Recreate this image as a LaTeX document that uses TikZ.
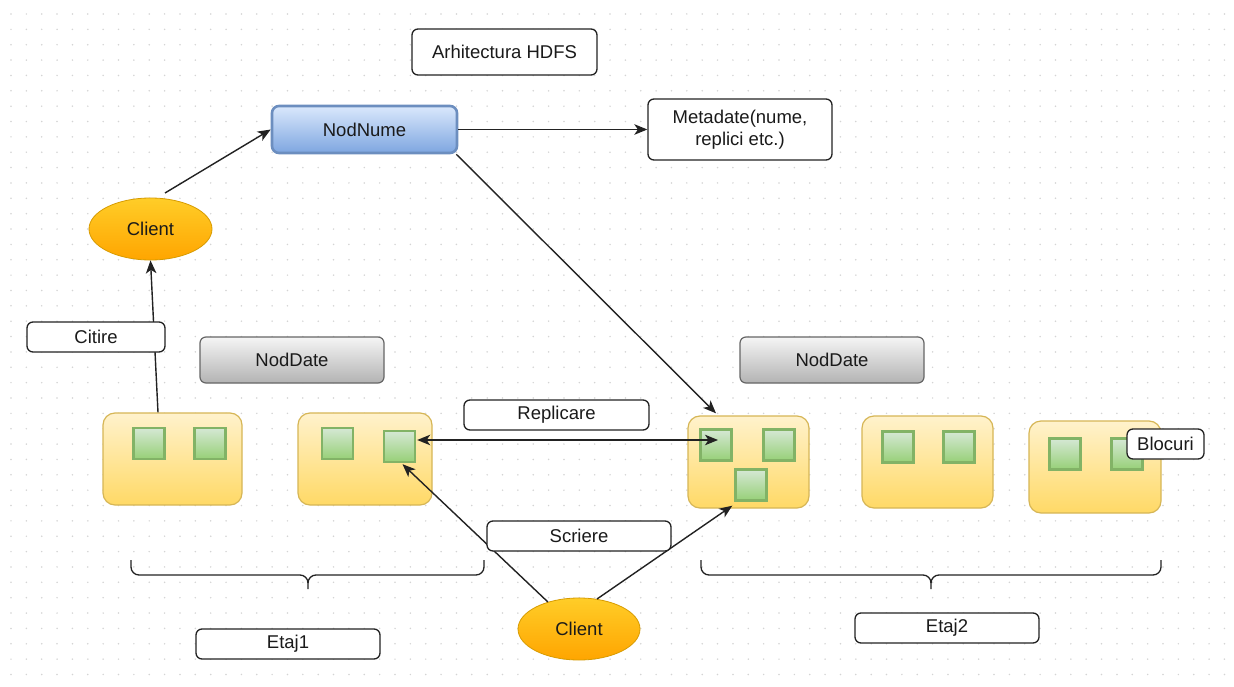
\documentclass[tikz,border=0pt]{standalone}
\usepackage{fontspec}
\setmainfont{Liberation Sans}
\usetikzlibrary{shapes.geometric,arrows.meta,calc}

\definecolor{dotc}{HTML}{D4D4D4}
\definecolor{inkc}{HTML}{222222}
\definecolor{txtc}{HTML}{1A1A1A}
\definecolor{nnline}{HTML}{6C8EBF}
\definecolor{nntop}{HTML}{DAE8FC}
\definecolor{nnbot}{HTML}{7EA6E0}
\definecolor{cltop}{HTML}{FFCD28}
\definecolor{clbot}{HTML}{FFA500}
\definecolor{clline}{HTML}{D79B00}
\definecolor{gytop}{HTML}{F5F5F5}
\definecolor{gybot}{HTML}{B3B3B3}
\definecolor{gyline}{HTML}{666666}
\definecolor{yltop}{HTML}{FFF2CC}
\definecolor{ylbot}{HTML}{FFD966}
\definecolor{ylline}{HTML}{D6B656}
\definecolor{grtop}{HTML}{D5E8D4}
\definecolor{grbot}{HTML}{97D077}
\definecolor{grline}{HTML}{82B366}

\begin{document}
\begin{tikzpicture}[x=1pt,y=-1pt,
  txt/.style={font=\fontsize{18.5}{22}\selectfont, text=txtc, align=center, inner sep=0pt},
  lbl/.style={txt, draw=inkc, fill=white, rounded corners=6pt, line width=1.3pt},
  namebox/.style={txt, draw=nnline, line width=2.6pt, rounded corners=7pt,
    top color=nntop, bottom color=nnbot},
  client/.style={txt, ellipse, draw=clline, line width=0.8pt,
    top color=cltop, bottom color=clbot, minimum width=123pt, minimum height=62pt},
  graybox/.style={txt, draw=gyline, line width=1.2pt, rounded corners=6pt,
    top color=gytop, bottom color=gybot, minimum width=184pt, minimum height=46pt},
  dnode/.style={draw=ylline, line width=1.2pt, rounded corners=12pt,
    top color=yltop, bottom color=ylbot, inner sep=0pt, minimum height=92pt},
  blk/.style={draw=grline, line width=2.4pt, top color=grtop, bottom color=grbot,
    inner sep=0pt, minimum width=31pt, minimum height=31pt},
  tip/.style={Stealth[length=13pt,width=10.5pt,inset=3.5pt]},
  arr/.style={draw=inkc, line width=1.4pt, -{Stealth[length=13pt,width=10.5pt,inset=3.5pt]}},
  biarr/.style={draw=inkc, line width=1.4pt,
    {Stealth[length=13pt,width=10.5pt,inset=3.5pt]}-{Stealth[length=13pt,width=10.5pt,inset=3.5pt]}},
  brace/.style={draw=inkc, line width=1.3pt}
]
% page and dotted grid
\useasboundingbox (0,0) rectangle (1234,687);
\fill[white] (0,0) rectangle (1234,687);
\foreach \i in {0,...,79}{
  \foreach \j in {0,...,43}{
    \fill[dotc] (11+\i*15.36,14+\j*15.36) circle (0.85);
  }
}

% top labels
\node[lbl, minimum width=185pt, minimum height=46pt] (title) at (504.5,52) {Arhitectura HDFS};
\node[namebox, minimum width=185pt, minimum height=47pt] (nodnume) at (364.5,129.5) {NodNume};
\node[lbl, minimum width=184pt, minimum height=61pt] (meta) at (740,129.5) {Metadate(nume,\\replici etc.)};

% clients
\node[client] (client1) at (150.5,229) {Client};
\node[client, minimum width=122pt] (client2) at (579,629) {Client};

% data node headers
\node[graybox] (nd1) at (292,360) {NodDate};
\node[graybox] (nd2) at (832,360) {NodDate};

% data nodes
\node[dnode, minimum width=139pt] (dn1) at (172.5,459) {};
\node[dnode, minimum width=134pt] (dn2) at (365,459) {};
\node[dnode, minimum width=121pt] (dn3) at (748.5,462) {};
\node[dnode, minimum width=131pt] (dn4) at (927.5,462) {};
\node[dnode, minimum width=132pt] (dn5) at (1095,467) {};

% blocks
\node[blk] (b11) at (149,443.5) {};
\node[blk] (b12) at (210,443.5) {};
\node[blk] (b21) at (337.5,443.5) {};
\node[blk] (b22) at (399.5,446.5) {};
\node[blk] (b31) at (716,445) {};
\node[blk] (b32) at (779,445) {};
\node[blk] (b33) at (751,485) {};
\node[blk] (b41) at (898,447) {};
\node[blk] (b42) at (959,447) {};
\node[blk] (b51) at (1065,454) {};
\node[blk] (b52) at (1127,454) {};

% connectors
\coordinate (c1out) at (165,193);
\draw[arr] (c1out) -- (nodnume.west);
\draw[arr] (nodnume.east) -- (meta.west);
\draw[arr] ($(nodnume.south east)+(-2,0)$) -- ($(b31.north)+(0,-15)$);
\draw[arr] ($(dn1.north)+(-14.5,0)$) -- (client1.south);
\draw[biarr] ($(b22.east)+(1,-6.5)$) -- ($(b31.center)+(2,-5)$);
\draw[arr] (client2.139) -- ($(b22.south)+(3,1)$);
\draw[arr] (client2.59) -- ($(b33.south west)+(-2,4)$);

% labels over the connectors
\node[lbl, minimum width=138pt, minimum height=30pt] (citire) at (96,337) {Citire};
\node[lbl, minimum width=185pt, minimum height=30pt] (replicare) at (556.5,415) {Replicare};
\node[lbl, minimum width=184pt, minimum height=30pt] (scriere) at (579,536) {Scriere};
\node[lbl, minimum width=77pt, minimum height=30pt] (blocuri) at (1165.5,444) {Blocuri};

% braces grouping the racks
\draw[brace] (131,560) -- (131,567) to[out=-90,in=180] (139,575) -- (300,575)
  to[out=0,in=90] (308,583) -- (308,589);
\draw[brace] (308,583) to[out=90,in=180] (316,575) -- (476,575)
  to[out=0,in=-90] (484,567) -- (484,560);
\draw[brace] (701,560) -- (701,567) to[out=-90,in=180] (709,575) -- (923,575)
  to[out=0,in=90] (931,583) -- (931,589);
\draw[brace] (931,583) to[out=90,in=180] (939,575) -- (1153,575)
  to[out=0,in=-90] (1161,567) -- (1161,560);

% rack names
\node[lbl, minimum width=184pt, minimum height=30pt] (etaj1) at (288,644) {Etaj1};
\node[lbl, minimum width=184pt, minimum height=30pt] (etaj2) at (947,628) {Etaj2};
\end{tikzpicture}
\end{document}
